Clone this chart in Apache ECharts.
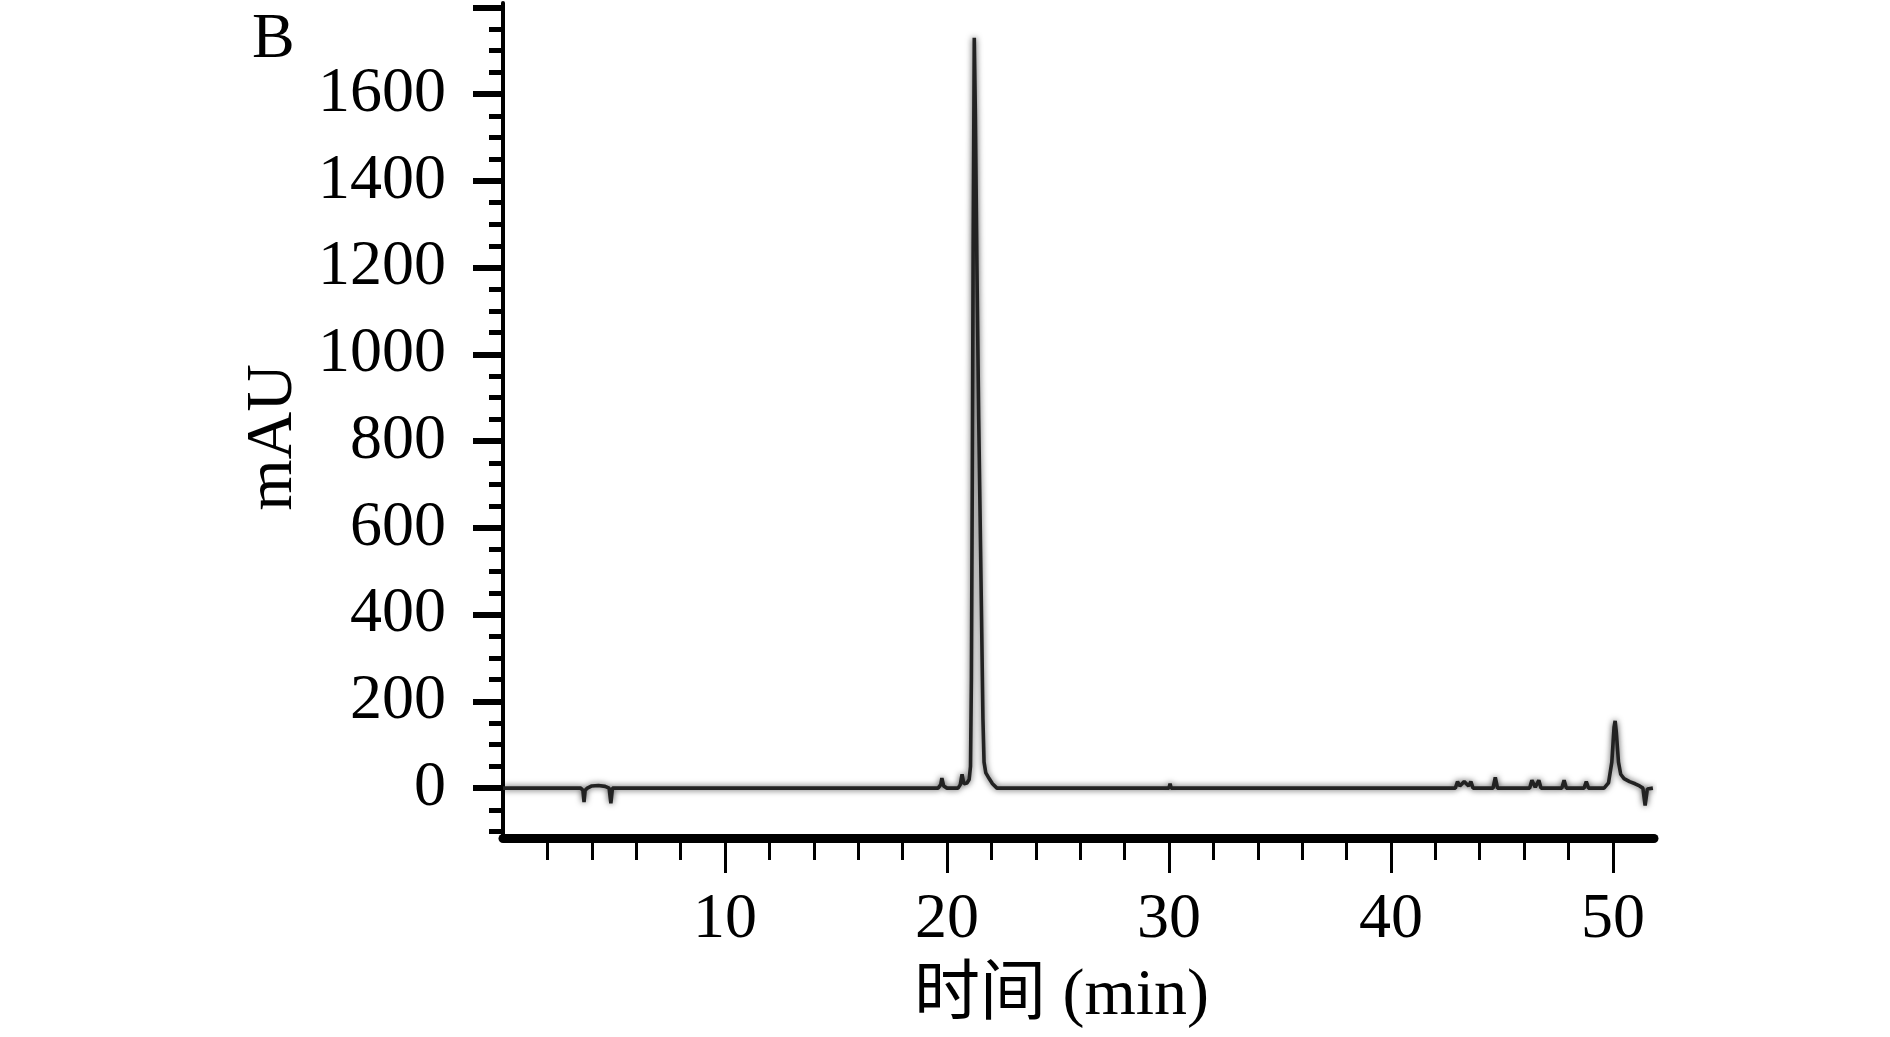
<!DOCTYPE html>
<html>
<head>
<meta charset="utf-8">
<script src="https://cdn.jsdelivr.net/npm/echarts@6/dist/echarts.min.js"></script>
<style>
  html, body { margin: 0; padding: 0; background: #fff; }
  #chart { width: 1890px; height: 1037px; }
</style>
</head>
<body>
<div id="chart"></div>
<script>
// Retention time (min)
var timeValues = [
  0, 3.5, 3.6, 3.65, 3.7, 3.8, 4.0, 4.3, 4.6, 4.78, 4.86, 4.93, 5.1,
  19.6, 19.72, 19.77, 19.85, 20.0, 20.5, 20.6, 20.68, 20.76, 20.9, 21.0,
  21.06, 21.1, 21.14, 21.18, 21.23, 21.28, 21.35, 21.43, 21.55, 21.62,
  21.67, 21.75, 21.9, 22.05, 22.25, 30.0, 30.05, 30.1,
  42.9, 43.0, 43.1, 43.3, 43.5, 43.6, 43.7, 44.6, 44.7, 44.8,
  46.25, 46.35, 46.5, 46.66, 46.76, 47.7, 47.8, 47.9, 48.7, 48.8, 48.9,
  49.6, 49.8, 49.95, 50.05, 50.1, 50.15, 50.25, 50.35, 50.5, 50.75,
  51.0, 51.2, 51.35, 51.45, 51.55, 51.8
];
// Absorbance (mAU)
var mAUValues = [
  0, 0, -5, -32, -5, 0, 5, 6, 4, 0, -35, 0, 0,
  0, 8, 23, 5, 0, 0, 8, 32, 10, 12, 20,
  50, 250, 700, 1250, 1730, 1550, 1200, 850, 420, 160,
  60, 35, 22, 10, 0, 0, 10, 0,
  0, 15, 5, 15, 5, 15, 0, 0, 25, 0,
  0, 18, 2, 18, 0, 0, 18, 0, 0, 15, 0,
  0, 12, 60, 140, 155, 130, 60, 32, 22, 15,
  10, 5, 0, -40, -2, 0
];

var xMajorTicks = [10, 20, 30, 40, 50];
var xMinorTicks = [2, 4, 6, 8, 12, 14, 16, 18, 22, 24, 26, 28, 32, 34, 36, 38, 42, 44, 46, 48];
var yLabelValues = [0, 200, 400, 600, 800, 1000, 1200, 1400, 1600];
var yMajorTicks = [0, 200, 400, 600, 800, 1000, 1200, 1400, 1600, 1800];
var yMinorTicks = [-100, -50, 50, 100, 150, 250, 300, 350, 450, 500, 550, 650, 700, 750,
  850, 900, 950, 1050, 1100, 1150, 1250, 1300, 1350, 1450, 1500, 1550, 1650, 1700, 1750];

var xName = '时间 (min)';
var yName = 'mAU';
var panelLabel = 'B';

var seriesData = timeValues.map(function (t, i) { return [t, mAUValues[i]]; });

var FONT = "'Liberation Serif', 'Times New Roman', 'Noto Sans CJK SC', serif";
var X_MIN = 0, X_MAX = 51.85, Y_MIN = -115, Y_MAX = 1810;
function plain(v) { return String(v); }

var chart = echarts.init(document.getElementById('chart'), null, { renderer: 'canvas' });
chart.setOption({
  backgroundColor: '#ffffff',
  animation: false,
  grid: { left: 503, right: 236, top: 3, bottom: 199, containLabel: false },
  graphic: [{
    type: 'text',
    left: 252,
    top: 8,
    style: { text: panelLabel, font: '64px ' + FONT, fill: '#000' }
  }],
  xAxis: [{
    type: 'value', min: X_MIN, max: X_MAX, position: 'bottom',
    axisLine: { show: true, onZero: false, lineStyle: { color: '#000', width: 9 } },
    axisTick: { show: true, customValues: xMajorTicks, length: 35, lineStyle: { color: '#000', width: 3 } },
    axisLabel: { show: true, customValues: xMajorTicks, formatter: plain, margin: 50, fontSize: 64, fontFamily: FONT, color: '#000' },
    splitLine: { show: false },
    name: xName, nameLocation: 'middle', nameGap: 126,
    nameTextStyle: { fontSize: 66, fontFamily: FONT, color: '#000', padding: [0, 34, 0, 0] }
  }, {
    type: 'value', min: X_MIN, max: X_MAX, position: 'bottom',
    axisLine: { show: false, onZero: false },
    axisTick: { show: true, customValues: xMinorTicks, length: 22, lineStyle: { color: '#000', width: 3 } },
    axisLabel: { show: false },
    splitLine: { show: false }
  }],
  yAxis: [{
    type: 'value', min: Y_MIN, max: Y_MAX, position: 'left',
    axisLine: { show: true, onZero: false, lineStyle: { color: '#000', width: 4 } },
    axisTick: { show: true, customValues: yMajorTicks, length: 30, lineStyle: { color: '#000', width: 6 } },
    axisLabel: { show: true, customValues: yLabelValues, formatter: plain, margin: 57, fontSize: 64, fontFamily: FONT, color: '#000' },
    splitLine: { show: false },
    name: yName, nameLocation: 'middle', nameGap: 183,
    nameTextStyle: { fontSize: 66, fontFamily: FONT, color: '#000', padding: [0, 34, 0, 0] }
  }, {
    type: 'value', min: Y_MIN, max: Y_MAX, position: 'left',
    axisLine: { show: false, onZero: false },
    axisTick: { show: true, customValues: yMinorTicks, length: 14, lineStyle: { color: '#000', width: 5 } },
    axisLabel: { show: false },
    splitLine: { show: false }
  }],
  series: [{
    type: 'line',
    xAxisIndex: 0, yAxisIndex: 0,
    data: seriesData,
    showSymbol: false,
    symbol: 'none',
    clip: false,
    lineStyle: { color: '#222222', width: 3.6, shadowBlur: 6, shadowColor: 'rgba(0,0,0,0.7)' }
  }]
});
</script>
</body>
</html>
